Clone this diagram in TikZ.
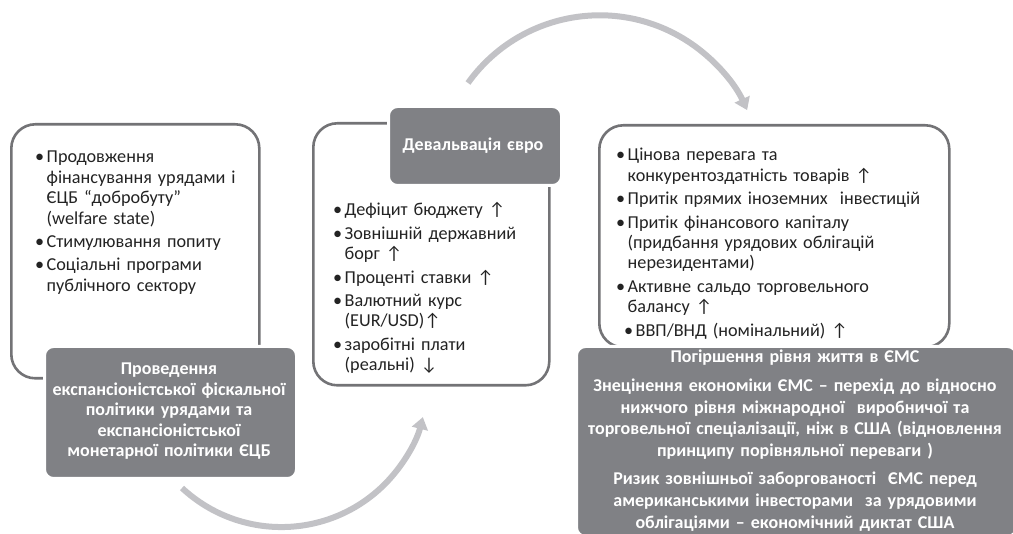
\documentclass[tikz,border=0pt]{standalone}
\usepackage{fontspec}
\setmainfont{Carlito}
\usetikzlibrary{arrows.meta}
\definecolor{cDark}{RGB}{128,129,133}
\definecolor{cFrame}{RGB}{115,115,118}
\definecolor{cArc}{RGB}{194,194,198}
\definecolor{cText}{RGB}{35,35,35}
\newcommand{\bl}{\makebox[11.5pt][l]{•}}
\newcommand{\nx}{\hspace*{11.5pt}}
\tikzset{
  outbox/.style={draw=cFrame, line width=2.6pt, rounded corners=24pt, fill=white, inner sep=0pt, anchor=north west},
  dbox/.style={fill=cDark, draw=white, line width=3pt, rounded corners=9pt, inner sep=0pt, anchor=north west},
  btxt/.style={inner sep=0pt, align=left, anchor=base west, text=cText, font=\fontsize{18.2}{20.4}\selectfont},
  dtxt/.style={inner sep=0pt, align=center, anchor=base, text=white, font=\bfseries\fontsize{18}{20.5}\selectfont},
  flow/.style={draw=cArc, line width=6pt, -{Triangle[length=12pt,width=16pt]}},
}
\begin{document}
\begin{tikzpicture}[x=1pt,y=-1pt]
\useasboundingbox (0,0) rectangle (1013,534);
% outlined boxes
\node[outbox, minimum width=248pt, minimum height=254pt] (lbox) at (10,123) {};
\node[outbox, minimum width=236pt, minimum height=262pt] (mbox) at (312,122) {};
\node[outbox, minimum width=350pt, minimum height=222pt] (rbox) at (598,124) {};
% dark boxes
\node[dbox, minimum width=252pt, minimum height=132pt] (ldark) at (43,345) {};
\node[dbox, minimum width=173pt, minimum height=79pt] (mdark) at (387,105) {};
\node[dbox, minimum width=440pt, minimum height=190pt] (rdark) at (575,345) {};
% bullet texts
\node[btxt, text width=240pt] (ltxt) at (35,163) {\bl Продовження\\\nx фінансування урядами і\\\nx ЄЦБ “добробуту”\\\nx (welfare state)\\[3pt]\bl Стимулювання попиту\\[3pt]\bl Соціальні програми\\\nx публічного сектору};
\node[btxt, text width=225pt] (mtxt) at (333,216) {\bl Дефіцит бюджету ↑\\[3pt]\bl Зовнішній державний\\\nx борг ↑\\[3pt]\bl Проценті ставки ↑\\[3pt]\bl Валютний курс\\\nx (EUR/USD)↑\\[3pt]\bl заробітні плати\\\nx (реальні) ↓};
\node[btxt, text width=360pt] (rtxt) at (616,161) {\bl Цінова перевага та\\\nx конкурентоздатність товарів ↑\\[3pt]\bl Притік прямих іноземних \ інвестицій\\[3pt]\bl Притік фінансового капіталу\\\nx (придбання урядових облігацій\\\nx нерезидентами)\\[3pt]\bl Активне сальдо торговельного\\\nx балансу ↑\\[3pt]\hspace*{8pt}\bl ВВП/ВНД (номінальний) ↑};
% dark texts
\node[dtxt, text width=190pt] (mdtxt) at (473,151) {Девальвація євро};
\node[dtxt, text width=270pt] (ldtxt) at (169,375) {Проведення\\експансіоністської фіскальної\\політики урядами та\\експансіоністської\\монетарної політики ЄЦБ};
\node[dtxt, text width=470pt, font=\bfseries\fontsize{18}{21.6}\selectfont] (rdtxt) at (795,363) {Погіршення рівня життя в ЄМС\\[7pt]Знецінення економіки ЄМС – перехід до відносно\\нижчого рівня міжнародної \ виробничої та\\торговельної спеціалізації, ніж в США (відновлення\\принципу порівняльної переваги )\\[7pt]Ризик зовнішньої заборгованості \ ЄМС перед\\американськими інвесторами \ за урядовими\\облігаціями – економічний диктат США};
% curved arrows
\coordinate (topS) at (468,83);
\coordinate (botS) at (182,488);
\draw[flow] (topS) arc[start angle=144.4, end angle=24.5, radius=162pt];
\draw[flow] (botS) arc[start angle=227.1, end angle=345.7, radius=146pt];
\end{tikzpicture}
\end{document}
